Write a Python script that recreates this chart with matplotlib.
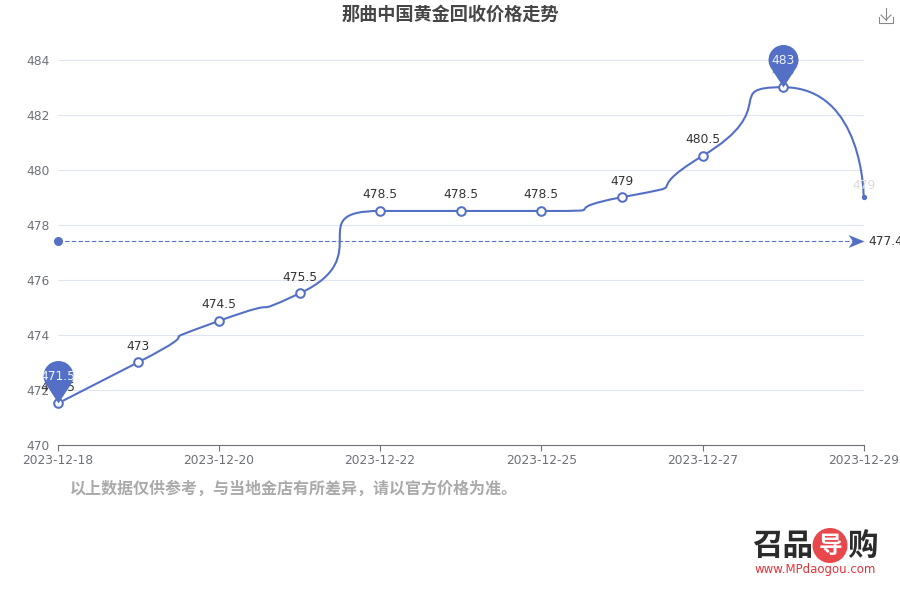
import numpy as np
import matplotlib
matplotlib.use('Agg')
import matplotlib.pyplot as plt
from matplotlib.path import Path
from matplotlib.patches import PathPatch, Ellipse
from matplotlib.lines import Line2D

plt.rcParams['font.family'] = ['Noto Sans CJK SC', 'DejaVu Sans']

dates = ['2023-12-18', '2023-12-19', '2023-12-20', '2023-12-21', '2023-12-22', '2023-12-23',
         '2023-12-25', '2023-12-26', '2023-12-27', '2023-12-28', '2023-12-29']
prices = [471.5, 473, 474.5, 475.5, 478.5, 478.5, 478.5, 479, 480.5, 483, 479]
avg_price = 477.4
y_ticks = [470, 472, 474, 476, 478, 480, 482, 484]

BLUE = '#5470c6'
GREY = '#6E7079'
LATIN = 'DejaVu Sans'

fig = plt.figure(figsize=(9, 6), dpi=100)
W, H = 900, 600
ax = fig.add_axes([57.7 / W, 1 - 444.7 / H, (864 - 58) / W, (445 - 60) / H])
x = np.arange(len(dates))
ax.set_xlim(0, len(dates) - 1)
ax.set_ylim(470, 484)


# echarts style smooth line, control points worked out in screen scale
def smooth_path(xs, ys, sx, sy, smooth=1.0):
    px = np.asarray(xs, float) * sx
    py = np.asarray(ys, float) * sy
    n = len(px)
    verts = [(px[0], py[0])]
    codes = [Path.MOVETO]
    cp0 = np.array([px[0], py[0]])
    for i in range(1, n):
        p = np.array([px[i], py[i]])
        if i == n - 1:
            next_cp0 = p.copy()
            cp1 = p.copy()
        else:
            prev = np.array([px[i - 1], py[i - 1]])
            nxt = np.array([px[i + 1], py[i + 1]])
            v = nxt - prev
            l0 = np.hypot(*(p - prev))
            l1 = np.hypot(*(nxt - p))
            r = l1 / (l0 + l1)
            nc = p + v * smooth * r
            nc = np.maximum(np.minimum(nc, np.maximum(nxt, p)), np.minimum(nxt, p))
            v = nc - p
            cp1 = p - v * l0 / l1
            cp1 = np.maximum(np.minimum(cp1, np.maximum(prev, p)), np.minimum(prev, p))
            v = p - cp1
            next_cp0 = p + v * l1 / l0
        verts += [tuple(cp0), tuple(cp1), tuple(p)]
        codes += [Path.CURVE4] * 3
        cp0 = next_cp0
    verts = np.array(verts) / [sx, sy]
    return Path(verts, codes)


# pin marker, tip at the origin
arc = Path.arc(-38, 218)
pin_v = [(0, 0)] + [tuple(v) for v in arc.vertices * 15 + [0, 27.5]] + [(0, 0), (0, 0)]
pin_c = [Path.MOVETO] + [Path.LINETO] + list(arc.codes[1:]) + [Path.LINETO, Path.CLOSEPOLY]
pin = Path(np.array(pin_v), pin_c)

arrow = Path(np.array([(0, 0), (-16, 6.5), (-11.5, 0), (-16, -6.5), (0, 0)]),
             [Path.MOVETO, Path.LINETO, Path.LINETO, Path.LINETO, Path.CLOSEPOLY])

# grid
ax.set_yticks(y_ticks)
ax.grid(axis='y', color='#E0E6F1', lw=0.8)
ax.set_axisbelow(True)
for s in ['top', 'left', 'right']:
    ax.spines[s].set_visible(False)
ax.spines['bottom'].set_color(GREY)
ax.spines['bottom'].set_linewidth(0.8)
ax.set_xticks(x[::2])
ax.set_xticklabels(dates[::2], family=LATIN)
ax.tick_params(axis='x', colors=GREY, labelsize=8.8, length=4, width=0.8, pad=2.5)
ax.tick_params(axis='y', colors=GREY, labelsize=8.8, length=0, pad=6)
for lab in ax.get_yticklabels():
    lab.set_family(LATIN)

# average line
ax.plot([0, len(dates) - 1], [avg_price, avg_price], color=BLUE, lw=0.8, ls=(0, (4, 2)), zorder=3)
ax.plot(0, avg_price, 'o', color=BLUE, ms=5.5, clip_on=False, zorder=3)
ax.plot(len(dates) - 1, avg_price, marker=arrow, color=BLUE, ms=23, mew=0, clip_on=False, zorder=3)
ax.annotate(str(avg_price), (len(dates) - 1, avg_price), xytext=(3.4, 0), textcoords='offset points',
            color='#333333', fontsize=8.8, family=LATIN, va='center', ha='left', annotation_clip=False)

# price line
sx = (864 - 58) / (len(dates) - 1)
sy = (445 - 60) / 14
ax.add_patch(PathPatch(smooth_path(x, prices, sx, sy), fill=False, edgecolor=BLUE, lw=1.5,
                       clip_on=False, zorder=4))
ax.plot(x[:-1], prices[:-1], 'o', mfc='white', mec=BLUE, mew=1.45, ms=6.2, ls='none', clip_on=False, zorder=5)
ax.plot(x[-1], prices[-1], 'o', color=BLUE, ms=2.8, clip_on=False, zorder=5)

# value labels
for i, v in enumerate(prices):
    col = '#333333'
    off = 11.5
    if i == len(prices) - 1:
        col = '#dcdcdc'
        off = 8.6
    elif i == 9:
        col = '#999999'
    ax.annotate(f'{v:g}', (i, v), xytext=(0, off), textcoords='offset points', ha='center', va='center',
                color=col, fontsize=8.8, family=LATIN, annotation_clip=False, zorder=6)

# max and min pins
for i in [int(np.argmin(prices)), int(np.argmax(prices))]:
    ax.plot(i, prices[i], marker=pin, color=BLUE, ms=61.2, mew=0, clip_on=False, zorder=7)
    ax.annotate(f'{prices[i]:g}', (i, prices[i]), xytext=(0, 19.4), textcoords='offset points', ha='center',
                va='center', color='#eef1fb', fontsize=8.8, family=LATIN, annotation_clip=False, zorder=8)

# title and note
fig.text(450 / W, 1 - 14 / H, '那曲中国黄金回收价格走势', ha='center', va='center', fontsize=13.1,
         fontweight='bold', color='#464646')
fig.text(70 / W, 1 - 489 / H, '以上数据仅供参考，与当地金店有所差异，请以官方价格为准。', ha='left', va='center',
         fontsize=11.55, fontweight='bold', color='#aaaaaa')

# save icon
icon = [[(886, 8), (886, 20)], [(881, 15), (886, 20), (891, 15)], [(879, 17), (879, 23), (893, 23), (893, 17)]]
for seg in icon:
    xs, ys = zip(*seg)
    fig.add_artist(Line2D(np.array(xs) / W, 1 - np.array(ys) / H, color='#888888', lw=0.8))

# logo
fig.add_artist(Ellipse((830 / W, 1 - 545.5 / H), 35 / W, 35 / H, color='#e8474c', lw=0))
fig.text(782.5 / W, 1 - 546 / H, '召品', ha='center', va='center', fontsize=22, fontweight='bold', color='#2b2b2b')
fig.text(862 / W, 1 - 546 / H, '购', ha='center', va='center', fontsize=22, fontweight='bold', color='#2b2b2b')
fig.text(830 / W, 1 - 546 / H, '导', ha='center', va='center', fontsize=17, fontweight='bold', color='white')
fig.text(815 / W, 1 - 570 / H, 'www.MPdaogou.com', ha='center', va='center', fontsize=8.5, color='#e8333a',
         family=LATIN)

fig.savefig('out.png', dpi=100)
